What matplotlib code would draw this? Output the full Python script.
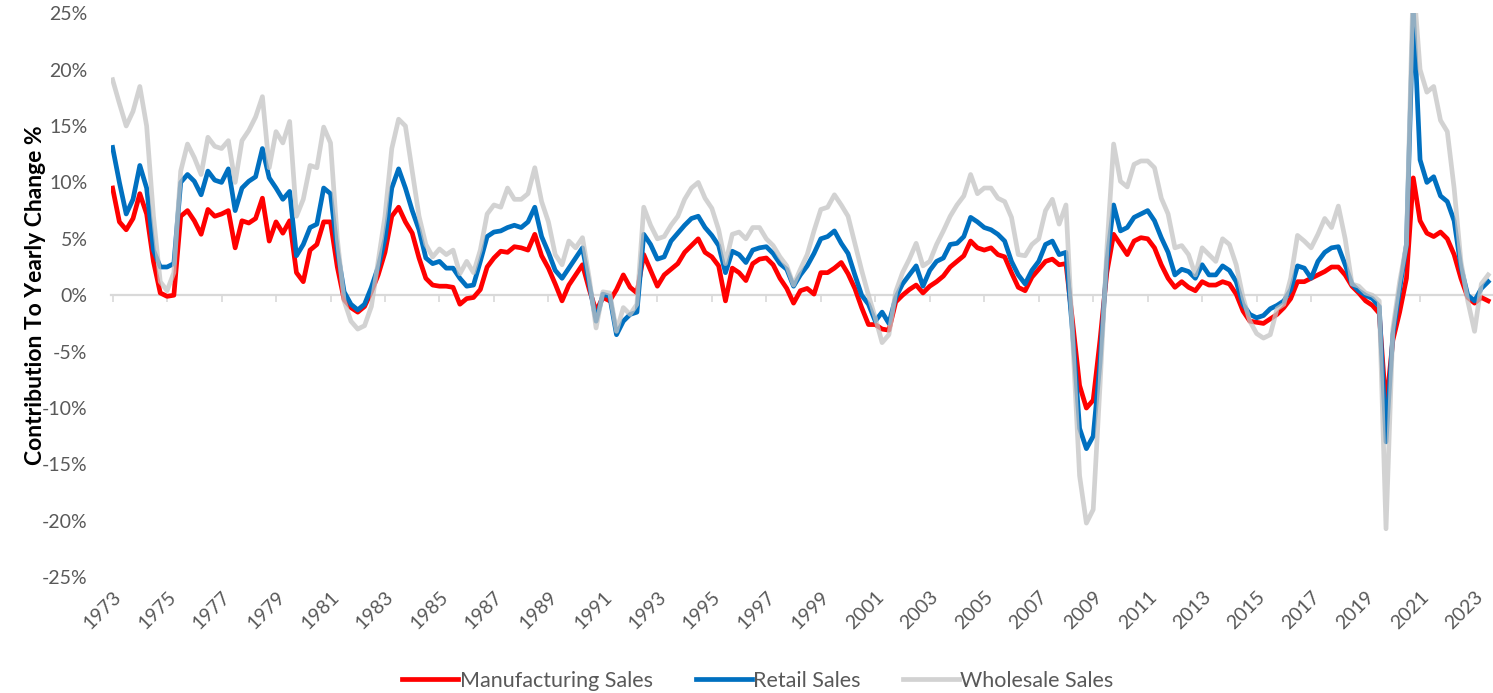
import numpy as np
import matplotlib
matplotlib.use('Agg')
import matplotlib.pyplot as plt
from matplotlib.ticker import FuncFormatter

plt.rcParams['font.family'] = ['Lato', 'DejaVu Sans']

# quarterly readings, 1973 Q1 .. 2023 Q3 (contribution to yearly change, %)
start_year = 1973
manufacturing = [
    9.5, 6.5, 5.8, 6.8,   9.0, 7.2, 3.0, 0.2,   -0.1, 0.0, 7.0, 7.5,
    6.6, 5.4, 7.6, 7.0,   7.2, 7.5, 4.2, 6.6,   6.4, 6.8, 8.6, 4.8,
    6.5, 5.5, 6.6, 2.0,   1.2, 4.0, 4.5, 6.5,   6.5, 2.5, -0.4, -1.1,
    -1.5, -1.0, 0.3, 1.8,  3.8, 7.0, 7.8, 6.5,  5.5, 3.3, 1.5, 0.9,
    0.8, 0.8, 0.7, -0.8,  -0.3, -0.2, 0.5, 2.5,  3.3, 3.9, 3.8, 4.3,
    4.2, 4.0, 5.4, 3.5,   2.4, 1.0, -0.5, 0.9,  1.8, 2.7, 0.5, -1.4,
    -0.2, -0.5, 0.5, 1.8,  0.7, 0.2, 3.6, 2.2,  0.8, 1.8, 2.3, 2.8,
    3.8, 4.4, 5.0, 3.8,   3.4, 2.6, -0.5, 2.4,  2.0, 1.3, 2.8, 3.2,
    3.3, 2.7, 1.5, 0.6,   -0.7, 0.4, 0.6, 0.1,  2.0, 2.0, 2.4, 2.9,
    1.9, 0.6, -1.1, -2.6,  -2.6, -3.0, -3.1, -0.6,  0.0, 0.5, 0.9, 0.2,
    0.8, 1.2, 1.7, 2.5,   3.0, 3.5, 4.8, 4.2,   4.0, 4.2, 3.6, 3.4,
    2.0, 0.7, 0.4, 1.6,   2.3, 3.0, 3.2, 2.7,   2.8, -2.5, -8.0, -10.0,
    -9.3, -4.0, 2.0, 5.4,  4.5, 3.6, 4.8, 5.1,  5.0, 4.2, 2.7, 1.5,
    0.7, 1.2, 0.7, 0.4,   1.2, 0.9, 0.9, 1.2,   1.0, 0.1, -1.4, -2.3,
    -2.4, -2.5, -2.1, -1.7,  -1.1, -0.3, 1.2, 1.2,  1.5, 1.8, 2.1, 2.5,
    2.5, 1.8, 0.8, 0.2,   -0.5, -0.9, -1.6, -10.0,  -4.0, -1.5, 1.5, 10.4,
    6.6, 5.5, 5.2, 5.6,   5.0, 3.6, 1.5, -0.2,  -0.7, -0.2, -0.5,
]
retail = [
    13.1, 10.0, 7.2, 8.5,  11.5, 9.5, 4.0, 2.5,  2.5, 2.8, 10.0, 10.7,
    10.1, 8.9, 11.0, 10.2,  10.0, 11.2, 7.5, 9.5,  10.1, 10.5, 13.0, 10.4,
    9.5, 8.5, 9.2, 3.5,   4.5, 6.0, 6.3, 9.5,   9.0, 4.0, 0.3, -0.8,
    -1.3, -0.8, 0.7, 2.5,  5.0, 9.5, 11.2, 9.5,  7.5, 5.8, 3.3, 2.8,
    3.0, 2.4, 2.4, 1.5,   0.8, 0.9, 3.0, 5.2,   5.6, 5.7, 6.0, 6.2,
    6.0, 6.5, 7.8, 5.2,   3.8, 2.2, 1.5, 2.4,   3.3, 4.2, 1.0, -2.3,
    0.1, -0.1, -3.5, -2.3,  -1.7, -1.5, 5.4, 4.5,  3.2, 3.4, 4.8, 5.5,
    6.2, 6.8, 7.0, 6.0,   5.3, 4.4, 2.0, 3.9,   3.6, 2.9, 4.0, 4.2,
    4.3, 3.7, 2.8, 2.3,   0.8, 1.8, 2.6, 3.7,   5.0, 5.2, 5.7, 4.6,
    3.7, 1.8, 0.0, -0.8,  -2.3, -1.5, -2.5, -0.2,  1.0, 1.8, 2.6, 0.8,
    2.2, 3.0, 3.3, 4.5,   4.6, 5.2, 6.9, 6.5,   6.0, 5.8, 5.4, 4.8,
    3.0, 1.8, 1.0, 2.2,   3.0, 4.5, 4.8, 3.6,   3.8, -3.5, -11.8, -13.6,
    -12.5, -6.0, 3.0, 8.0,  5.7, 6.0, 6.9, 7.2,  7.5, 6.6, 5.1, 3.8,
    1.8, 2.3, 2.1, 1.5,   2.7, 1.8, 1.8, 2.6,   2.2, 1.2, -0.8, -1.7,
    -2.0, -1.8, -1.2, -0.9,  -0.5, 0.5, 2.6, 2.4,  1.5, 3.0, 3.8, 4.2,
    4.3, 2.7, 1.0, 0.4,   0.0, -0.3, -1.0, -13.0,  -3.5, 0.5, 4.5, 25.5,
    12.0, 10.0, 10.5, 8.8,  8.3, 6.6, 2.5, 0.0,  -0.5, 0.6, 1.2,
]
wholesale = [
    19.1, 17.0, 15.0, 16.3,  18.5, 15.0, 7.0, 1.2,  0.4, 2.0, 11.0, 13.4,
    12.2, 10.7, 14.0, 13.2,  13.0, 13.7, 10.0, 13.7,  14.6, 15.8, 17.6, 11.3,
    14.5, 13.5, 15.4, 7.0,  8.5, 11.5, 11.3, 14.9,  13.5, 5.0, -0.5, -2.3,
    -3.0, -2.7, -1.0, 3.0,  7.0, 13.0, 15.6, 15.0,  11.0, 7.0, 4.5, 3.4,
    4.1, 3.6, 4.0, 1.9,   3.0, 2.0, 4.0, 7.2,   8.0, 7.8, 9.5, 8.5,
    8.5, 9.0, 11.3, 8.3,  6.5, 3.6, 2.7, 4.8,   4.2, 5.1, 1.5, -2.9,
    0.3, 0.2, -3.2, -1.1,  -1.7, -0.8, 7.8, 6.2,  5.0, 5.2, 6.2, 7.0,
    8.5, 9.5, 10.0, 8.6,  7.7, 5.8, 2.8, 5.4,   5.6, 5.0, 6.0, 6.0,
    5.0, 4.4, 3.4, 2.6,   0.9, 2.3, 3.6, 5.7,   7.6, 7.8, 8.9, 8.0,
    7.0, 4.6, 2.2, 0.0,   -2.0, -4.2, -3.5, 0.3,  2.0, 3.2, 4.6, 2.6,
    3.0, 4.5, 5.7, 7.0,   8.0, 8.8, 10.7, 9.0,  9.5, 9.5, 8.6, 8.3,
    6.9, 3.6, 3.5, 4.5,   5.0, 7.5, 8.5, 6.3,   8.0, -4.0, -16.0, -20.2,
    -19.0, -8.0, 4.0, 13.4,  10.1, 9.6, 11.6, 11.9,  11.9, 11.3, 8.6, 7.2,
    4.2, 4.4, 3.6, 1.8,   4.2, 3.6, 3.0, 5.0,   4.5, 2.7, -0.2, -2.3,
    -3.4, -3.8, -3.5, -1.2,  -0.8, 1.5, 5.3, 4.8,  4.2, 5.4, 6.8, 6.0,
    7.9, 5.0, 1.0, 0.8,   0.2, 0.0, -0.5, -20.7,  -3.0, 1.2, 4.5, 28.0,
    20.0, 18.0, 18.5, 15.5,  14.5, 9.5, 3.0, -0.5,  -3.2, 1.0, 1.8,
]
labels = ['Manufacturing Sales', 'Retail Sales', 'Wholesale Sales']
tick_years = list(range(1973, 2024, 2))

years = start_year + 0.25 * np.arange(len(wholesale))

fig = plt.figure(figsize=(14.93, 6.93), dpi=100)
ax = fig.add_axes([0.0745, 0.167, 0.925, 0.814])

ax.plot(years, manufacturing, color='#ff0000', lw=3.4, zorder=3, label=labels[0])
ax.plot(years, retail, color='#0070c0', lw=3.4, zorder=4, label=labels[1])
ax.plot(years, wholesale, color='#c4c4c4', lw=3.4, alpha=0.75, zorder=5,
        label=labels[2])

ax.set_xlim(1972.95, 2023.65)
ax.set_ylim(-25, 25)
ax.set_yticks(np.arange(-25, 26, 5))
ax.yaxis.set_major_formatter(FuncFormatter(lambda v, p: '%d%%' % v))
ax.tick_params(axis='y', length=0, labelsize=14, labelcolor='#595959', pad=17)

# horizontal axis sits on the 0% line, labels stay at the bottom
for s in ['top', 'right', 'left']:
    ax.spines[s].set_visible(False)
ax.spines['bottom'].set_position(('data', 0))
ax.spines['bottom'].set_color('#d9d9d9')
ax.spines['bottom'].set_linewidth(1.6)
ax.set_xticks(tick_years)
ax.tick_params(axis='x', length=5, width=1.2, color='#d9d9d9', labelbottom=False)

sec = ax.secondary_xaxis('bottom')
sec.set_xticks(tick_years)
sec.spines['bottom'].set_visible(False)
sec.tick_params(length=0, labelsize=14, labelcolor='#595959', pad=8)
for lbl in sec.get_xticklabels():
    lbl.set_rotation(45)
    lbl.set_ha('right')
    lbl.set_rotation_mode('anchor')

ax.set_ylabel('Contribution To Yearly Change %', fontsize=16.5, fontweight='bold',
              color='black', labelpad=-3)

fig.legend(loc='center', bbox_to_anchor=(758 / 1493, 1 - 681 / 693), ncol=3,
           frameon=False, fontsize=15.5, labelcolor='#595959', handlelength=2.6,
           handletextpad=0.05, columnspacing=2.0)

fig.savefig('out.png', dpi=100)
